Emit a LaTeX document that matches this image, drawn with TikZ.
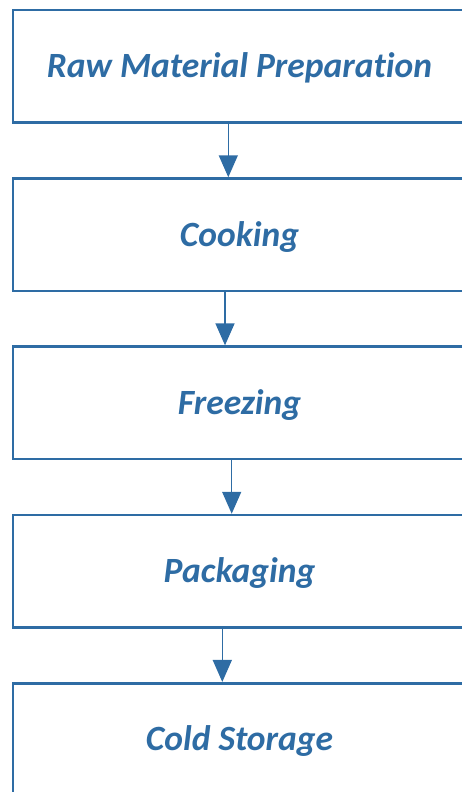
\documentclass[tikz,border=0pt]{standalone}
\usepackage{fontspec}
\setmainfont{Carlito}[Ligatures=NoCommon]
\usetikzlibrary{arrows.meta}
\definecolor{flowblue}{RGB}{46,108,164}
\begin{document}
\begin{tikzpicture}[x=1pt,y=-1pt,
  stepbox/.style={draw=flowblue, line width=2.6pt, fill=white, rectangle,
    minimum width=453pt, minimum height=112.5pt, inner sep=0pt,
    text height=22.4pt, text depth=0pt,
    text=flowblue, font=\fontsize{35.5}{42}\selectfont\bfseries\itshape},
  flowarrow/.style={draw=flowblue, line width=1.5pt,
    -{Triangle[width=19pt,length=22pt]}, flowblue}]
\useasboundingbox (0,0) rectangle (462,792);
\clip (0,0) rectangle (462,792);
\node[stepbox] (raw)  at (239.5,66.3)  {Raw Material Preparation};
\node[stepbox] (cook) at (239.5,234.8) {Cooking};
\node[stepbox] (frz)  at (239.5,402.9) {Freezing};
\node[stepbox] (pack) at (239.5,571.3) {Packaging};
\node[stepbox] (cold) at (239.5,739.5) {Cold Storage};
\draw[flowarrow] (raw.south -| 228.3,0) -- (cook.north -| 228.3,0);
\draw[flowarrow] (cook.south -| 225,0) -- (frz.north -| 225,0);
\draw[flowarrow] (frz.south -| 231.7,0) -- (pack.north -| 231.7,0);
\draw[flowarrow] (pack.south -| 222.3,0) -- (cold.north -| 222.3,0);
\end{tikzpicture}
\end{document}
